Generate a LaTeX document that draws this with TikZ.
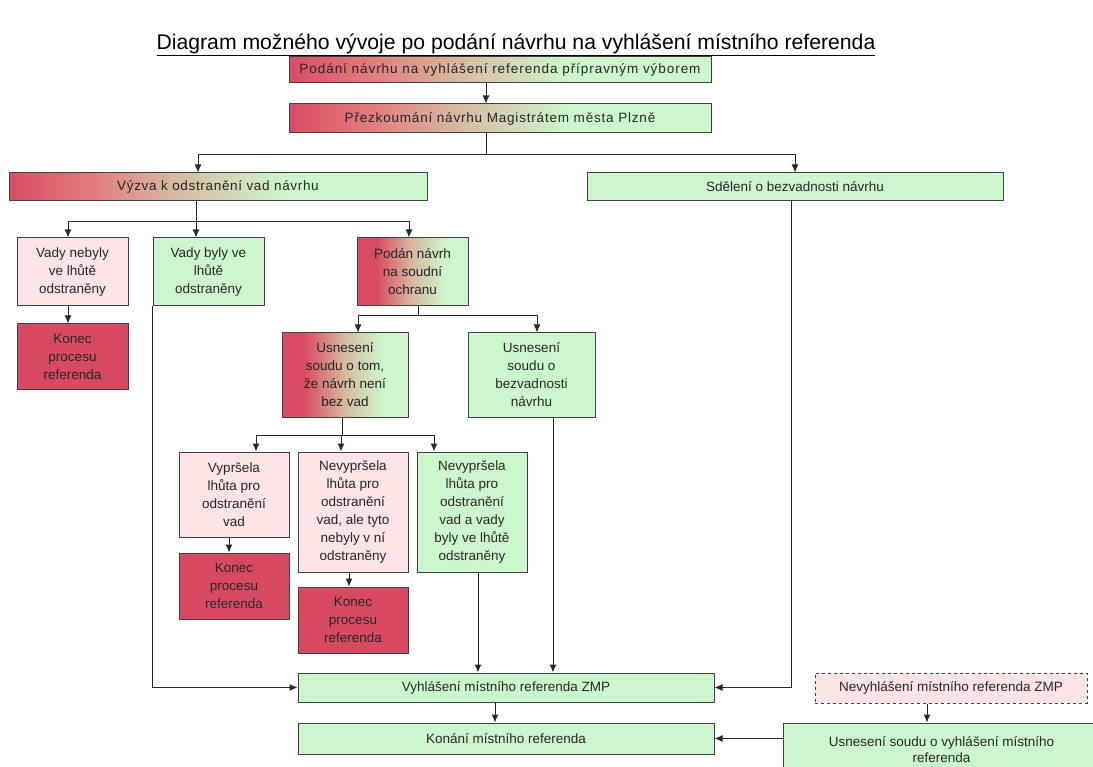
\documentclass[tikz,border=0pt]{standalone}
\usepackage{fontspec}
\setmainfont{Liberation Sans}
\usetikzlibrary{arrows.meta,calc}
\definecolor{gred}{RGB}{218,76,100}
\definecolor{gmidA}{RGB}{226,125,125}
\definecolor{gmidB}{RGB}{214,186,160}
\definecolor{lgreen}{RGB}{204,247,204}
\definecolor{lpink}{RGB}{252,228,228}
\definecolor{dred}{RGB}{216,74,98}
\definecolor{bordergray}{RGB}{64,64,64}
\definecolor{textgray}{RGB}{40,40,40}
\pgfdeclarehorizontalshading{redgreen}{100bp}{color(0bp)=(gred); color(25bp)=(gred); color(35bp)=(gmidA); color(45bp)=(gmidB); color(58bp)=(lgreen); color(100bp)=(lgreen)}
\pgfdeclarehorizontalshading{redgreensmall}{100bp}{color(0bp)=(gred); color(25bp)=(gred); color(34bp)=(gred); color(50bp)=(gmidB); color(65bp)=(lgreen); color(100bp)=(lgreen)}
\tikzset{
  box/.style={draw=bordergray, line width=1pt, align=center, inner sep=1pt,
    font=\fontsize{13.5}{18}\selectfont, text=textgray, anchor=center},
  gradbox/.style={box, shade, shading=redgreen},
  gradsmall/.style={box, shade, shading=redgreensmall},
  greenbox/.style={box, fill=lgreen},
  pinkbox/.style={box, fill=lpink},
  endbox/.style={box, fill=dred},
  arr/.style={draw=textgray, line width=1pt, -{Latex[length=8pt,width=7pt]}},
  ln/.style={draw=textgray, line width=1pt},
}
\begin{document}
\begin{tikzpicture}[x=1pt,y=-1pt]
\clip (0,0) rectangle (1093,767);
\fill[white] (0,0) rectangle (1093,767);
\node[text=black] (title) at (516,45) {\fontsize{21.2}{24}\selectfont\underline{Diagram možného vývoje po podání návrhu na vyhlášení místního referenda}};

\node[gradbox, minimum width=422pt, minimum height=26pt] (b1) at (500,70) {\addfontfeatures{LetterSpace=7}Podání návrhu na vyhlášení referenda přípravným výborem};
\node[gradbox, minimum width=422pt, minimum height=29pt] (b2) at (500,118.5) {\addfontfeatures{LetterSpace=6}Přezkoumání návrhu Magistrátem města Plzně};
\node[gradbox, minimum width=418pt, minimum height=28pt] (b3) at (218,187) {\addfontfeatures{LetterSpace=5}Výzva k odstranění vad návrhu};
\node[greenbox, minimum width=416pt, minimum height=28pt] (b4) at (795,187) {Sdělení o bezvadnosti návrhu};

\node[pinkbox, minimum width=111pt, minimum height=68pt] (b5) at (72.5,272) {Vady nebyly\\ve lhůtě\\odstraněny};
\node[greenbox, minimum width=111pt, minimum height=68pt] (b6) at (208.5,272) {Vady byly ve\\lhůtě\\odstraněny};
\node[gradsmall, minimum width=111pt, minimum height=68pt] (b7) at (412.5,272) {Podán návrh\\na soudní\\ochranu};
\node[endbox, minimum width=111pt, minimum height=66pt] (k1) at (72.5,357) {Konec\\procesu\\referenda};

\node[gradsmall, minimum width=126pt, minimum height=84pt] (b8) at (345,375) {Usnesení\\soudu o tom,\\že návrh není\\bez vad};
\node[greenbox, minimum width=127pt, minimum height=84pt] (b9) at (531.5,375) {Usnesení\\soudu o\\bezvadnosti\\návrhu};

\node[pinkbox, minimum width=110pt, minimum height=85pt] (b10) at (234,494.5) {Vypršela\\lhůta pro\\odstranění\\vad};
\node[pinkbox, minimum width=110pt, minimum height=120pt] (b11) at (353,512) {Nevypršela\\lhůta pro\\odstranění\\vad, ale tyto\\nebyly v ní\\odstraněny};
\node[greenbox, minimum width=110pt, minimum height=120pt] (b12) at (472,512) {Nevypršela\\lhůta pro\\odstranění\\vad a vady\\byly ve lhůtě\\odstraněny};
\node[endbox, minimum width=110pt, minimum height=66pt] (k2) at (234,586) {Konec\\procesu\\referenda};
\node[endbox, minimum width=110pt, minimum height=66pt] (k3) at (353,620) {Konec\\procesu\\referenda};

\node[greenbox, minimum width=416pt, minimum height=29pt] (vyh) at (506,687.5) {Vyhlášení místního referenda ZMP};
\node[greenbox, minimum width=416pt, minimum height=31pt] (kon) at (506,738.5) {Konání místního referenda};
\node[pinkbox, dashed, minimum width=272pt, minimum height=30pt] (nev) at (951,688) {Nevyhlášení místního referenda ZMP};
\node[greenbox, minimum width=317pt, minimum height=54pt, font=\fontsize{13.5}{16}\selectfont] (usn) at (941.5,750) {Usnesení soudu o vyhlášení místního\\referenda};

% connectors
\draw[arr] ([xshift=-14pt]b1.south) -- ([xshift=-14pt]b2.north);
\coordinate (j1) at (486,155);
\draw[ln] (b2.south -| j1) -- (j1);
\draw[arr] (j1) -| ([xshift=-20pt]b3.north);
\draw[arr] (j1) -| (b4.north);

\coordinate (j2) at (196,222);
\draw[ln] (b3.south -| j2) -- (j2);
\draw[arr] (j2) -- (j2 |- b6.north);
\draw[arr] (j2) -| ([xshift=-4.5pt]b5.north);
\draw[arr] (j2) -| ([xshift=-3.5pt]b7.north);
\draw[arr] ([xshift=-4.5pt]b5.south) -- ([xshift=-4.5pt]k1.north);

\coordinate (j3) at (418,316);
\draw[ln] (b7.south -| j3) -- (j3);
\draw[arr] (j3) -| ([xshift=13pt]b8.north);
\draw[arr] (j3) -| ([xshift=5.5pt]b9.north);

\coordinate (j4) at (342,435);
\draw[ln] (b8.south -| j4) -- (j4);
\draw[arr] (j4) -| ([xshift=22pt]b10.north);
\draw[arr] (j4) -| ([xshift=-12pt]b11.north);
\draw[arr] (j4) -| ([xshift=-38pt]b12.north);
\draw[arr] ([xshift=-5pt]b10.south) -- ([xshift=-5pt]k2.north);
\draw[arr] ([xshift=-4pt]b11.south) -- ([xshift=-4pt]k3.north);

\draw[arr] ([xshift=6pt]b12.south) -- ([xshift=6pt]b12.south |- vyh.north);
\draw[arr] ([xshift=21.5pt]b9.south) -- ([xshift=21.5pt]b9.south |- vyh.north);
\draw[arr] (b6.south west) |- (vyh.west);
\draw[arr] ([xshift=-4pt]b4.south) |- (vyh.east);
\draw[arr] ([xshift=-11pt]vyh.south) -- ([xshift=-11pt]kon.north);
\draw[arr] ([xshift=-24pt]nev.south) -- ([xshift=-24pt]nev.south |- usn.north);
\draw[arr] (usn.west |- kon.east) -- (kon.east);
\end{tikzpicture}
\end{document}
